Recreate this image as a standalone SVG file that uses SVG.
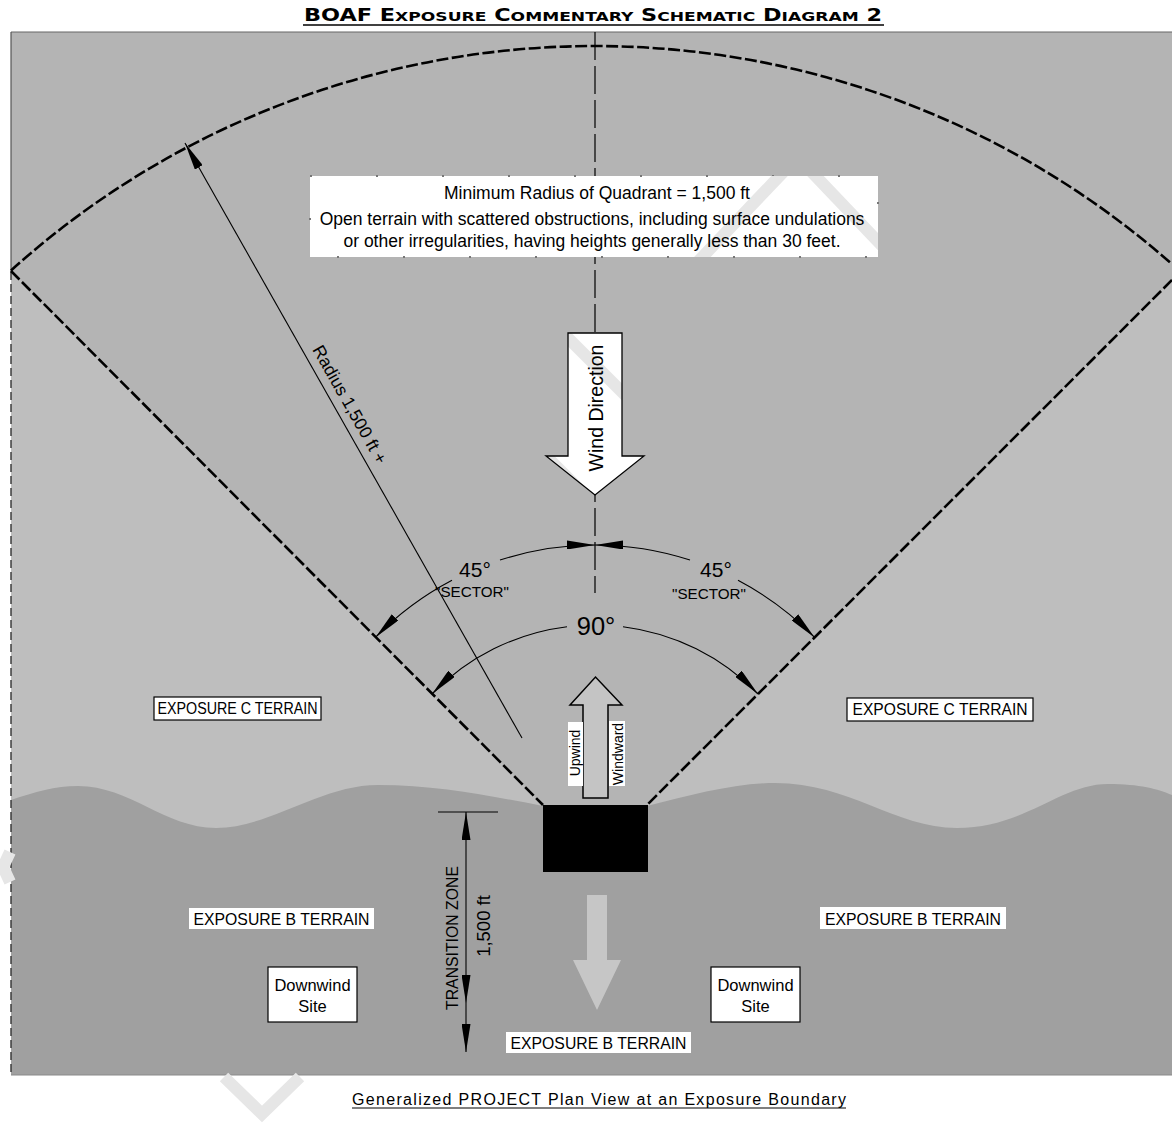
<svg xmlns="http://www.w3.org/2000/svg" width="1172" height="1123" viewBox="0 0 1172 1123">
<style>
.t{font-family:"Liberation Sans",Arial,sans-serif;fill:#000}
.dash{fill:none;stroke:#000;stroke-width:2.6;stroke-dasharray:12 3.5}
.thin{fill:none;stroke:#000;stroke-width:1.1}
.lbl{fill:#fff}
.lblb{fill:#fff;stroke:#000;stroke-width:1.2}
.wm{fill:none;stroke:#e6e6e6;stroke-width:12}
</style>
<defs>
<marker id="ah" markerUnits="userSpaceOnUse" markerWidth="28" markerHeight="9" viewBox="0 0 28 9" refX="28" refY="4.5" orient="auto-start-reverse"><path d="M0,0 L28,4.5 L0,9 Z" fill="#000"/></marker>
<clipPath id="boxclip"><rect x="310" y="176" width="568" height="81"/></clipPath>
<clipPath id="windclip"><polygon points="568,333 622,333 622,456 644,456 595,495 546,456 568,456"/></clipPath>
</defs>

<g id="title">
<text class="t" x="304" y="21" textLength="578" lengthAdjust="spacingAndGlyphs" style="font-family:'DejaVu Sans',sans-serif;font-weight:bold"><tspan font-size="17">BOAF E</tspan><tspan font-size="13">XPOSURE</tspan><tspan font-size="17"> C</tspan><tspan font-size="13">OMMENTARY</tspan><tspan font-size="17"> S</tspan><tspan font-size="13">CHEMATIC</tspan><tspan font-size="17"> D</tspan><tspan font-size="13">IAGRAM</tspan><tspan font-size="17"> 2</tspan></text>
<line x1="303" y1="25" x2="884" y2="25" stroke="#000" stroke-width="1.6"/>
</g>

<g id="background">
<rect x="11" y="32" width="1161" height="1043" fill="#b4b4b4"/>
<polygon points="11,271 543,805 543,1075 11,1075" fill="#bebebe"/>
<polygon points="1172,280 647,805 647,1075 1172,1075" fill="#bebebe"/>
<path d="M11,800 C35,792 55,786 78,786 C130,786 165,828 216,828 C270,828 320,785 378,785 C440,785 495,797 543,806 L647,806 C690,795 735,783 775,783 C850,783 895,828 957,828 C1025,828 1060,784 1108,784 C1140,784 1158,789 1172,795 L1172,1075 L11,1075 Z" fill="#a0a0a0"/>
<line x1="11" y1="32" x2="1172" y2="32" stroke="#666" stroke-width="1.2"/>
<line x1="11" y1="32" x2="11" y2="272" stroke="#555" stroke-width="1.2"/>
<line x1="11" y1="272" x2="11" y2="1075" stroke="#333" stroke-width="1.4" stroke-dasharray="8 4"/>
<line x1="11" y1="1075" x2="1172" y2="1075" stroke="#8a8a8a" stroke-width="1"/>
<polyline class="wm" points="224,1077 262,1114 300,1077" stroke-width="10"/>
<polyline class="wm" points="10,852 3,867 10,882" stroke-width="7"/>
</g>

<g id="connectors">
<path class="dash" d="M11,270.5 A872,872 0 0 1 1172,264.2"/>
<path class="dash" d="M11,271 L543,805"/>
<path class="dash" d="M1172,280 L647,805"/>
<line x1="595" y1="32" x2="595" y2="593" stroke="#000" stroke-width="1.2" stroke-dasharray="28 6"/>
<path class="thin" d="M522,738 L185,143" marker-end="url(#ah)"/>
<path class="thin" d="M500,560.1 A307,307 0 0 1 595,545" marker-end="url(#ah)"/>
<path class="thin" d="M690,560.1 A307,307 0 0 0 595,545" marker-end="url(#ah)"/>
<path class="thin" d="M452,580.3 A307,307 0 0 0 375.4,637.4" marker-end="url(#ah)"/>
<path class="thin" d="M738,580.3 A307,307 0 0 1 814.6,637.4" marker-end="url(#ah)"/>
<path class="thin" d="M567,626.7 A227,227 0 0 0 432,694" marker-end="url(#ah)"/>
<path class="thin" d="M623,626.7 A227,227 0 0 1 758,694" marker-end="url(#ah)"/>
<line x1="438" y1="812" x2="498" y2="812" stroke="#000" stroke-width="1.2"/>
<path class="thin" d="M466,812 V1003" marker-start="url(#ah)" marker-end="url(#ah)"/>
<path class="thin" d="M466,1003 V1052" marker-end="url(#ah)"/>
</g>

<g id="quadrant-note">
<rect x="310" y="176" width="568" height="81" fill="#fff" stroke="#777" stroke-width="2" stroke-dasharray="2 64"/>
<g clip-path="url(#boxclip)">
<line class="wm" x1="790" y1="165" x2="690" y2="270"/>
<line class="wm" x1="805" y1="165" x2="905" y2="270"/>
</g>
<text class="t" x="597" y="199" font-size="17.5" text-anchor="middle">Minimum Radius of Quadrant = 1,500 ft</text>
<text class="t" x="592" y="225" font-size="17.5" text-anchor="middle">Open terrain with scattered obstructions, including surface undulations</text>
<text class="t" x="592" y="247" font-size="17.5" text-anchor="middle">or other irregularities, having heights generally less than 30 feet.</text>
</g>

<g id="wind-direction">
<polygon points="568,333 622,333 622,456 644,456 595,495 546,456 568,456" fill="#fff"/>
<g clip-path="url(#windclip)">
<line class="wm" x1="560" y1="330" x2="630" y2="400" stroke-width="11"/>
<line class="wm" x1="545" y1="455" x2="595" y2="505" stroke-width="11"/>
</g>
<polygon points="568,333 622,333 622,456 644,456 595,495 546,456 568,456" fill="none" stroke="#000" stroke-width="1.3"/>
<text class="t" transform="translate(603,408) rotate(-90)" font-size="19.5" text-anchor="middle">Wind Direction</text>
</g>

<g id="radius-label">
<text class="t" transform="translate(349,405) rotate(60.6)" y="5" font-size="17.5" text-anchor="middle">Radius 1,500 ft +</text>
</g>

<g id="angle-labels">
<text class="t" x="475" y="577" font-size="21" text-anchor="middle">45°</text>
<text class="t" x="472" y="597" font-size="15.2" text-anchor="middle">"SECTOR"</text>
<text class="t" x="716" y="577" font-size="21" text-anchor="middle">45°</text>
<text class="t" x="709" y="599" font-size="15.2" text-anchor="middle">"SECTOR"</text>
<text class="t" x="596" y="635" font-size="25.5" text-anchor="middle">90°</text>
</g>

<g id="upwind-arrow">
<polygon points="583,798 608,798 608,705 622,705 595.5,677 570,705 583,705" fill="#c4c4c4" stroke="#000" stroke-width="1.5"/>
<rect class="lbl" x="568" y="722" width="15" height="64"/>
<rect class="lbl" x="609" y="721" width="16" height="65"/>
<text class="t" transform="translate(579.5,753) rotate(-90)" font-size="14" text-anchor="middle">Upwind</text>
<text class="t" transform="translate(623,754) rotate(-90)" font-size="14" text-anchor="middle">Windward</text>
</g>

<g id="project-site">
<rect x="543" y="805" width="105" height="67" fill="#000"/>
</g>

<g id="downwind-arrow">
<polygon points="587,895 607,895 607,960 621,960 597,1010 573,960 587,960" fill="#c6c6c6"/>
</g>

<g id="transition-zone">
<text class="t" transform="translate(458,938) rotate(-90)" font-size="15.8" text-anchor="middle">TRANSITION ZONE</text>
<text class="t" transform="translate(490,926) rotate(-90)" font-size="18.5" text-anchor="middle">1,500 ft</text>
</g>

<g id="exposure-c-left">
<rect class="lblb" x="154" y="697" width="167" height="23"/>
<text class="t" x="237.5" y="714" font-size="16" text-anchor="middle" textLength="160" lengthAdjust="spacingAndGlyphs">EXPOSURE C TERRAIN</text>
</g>
<g id="exposure-c-right">
<rect class="lblb" x="847" y="698" width="186" height="23"/>
<text class="t" x="940" y="715" font-size="16.5" text-anchor="middle" textLength="175" lengthAdjust="spacingAndGlyphs">EXPOSURE C TERRAIN</text>
</g>
<g id="exposure-b-left">
<rect class="lbl" x="189" y="908" width="185" height="21"/>
<text class="t" x="281.5" y="925" font-size="16.5" text-anchor="middle" textLength="176" lengthAdjust="spacingAndGlyphs">EXPOSURE B TERRAIN</text>
</g>
<g id="exposure-b-right">
<rect class="lbl" x="820" y="907" width="186" height="22"/>
<text class="t" x="913" y="924.5" font-size="16.5" text-anchor="middle" textLength="176" lengthAdjust="spacingAndGlyphs">EXPOSURE B TERRAIN</text>
</g>
<g id="exposure-b-bottom">
<rect class="lbl" x="506" y="1032" width="185" height="21"/>
<text class="t" x="598.5" y="1049" font-size="16.5" text-anchor="middle" textLength="176" lengthAdjust="spacingAndGlyphs">EXPOSURE B TERRAIN</text>
</g>
<g id="downwind-site-left">
<rect class="lblb" x="268" y="967" width="89" height="55"/>
<text class="t" x="312.5" y="991" font-size="16.5" text-anchor="middle">Downwind</text>
<text class="t" x="312.5" y="1012" font-size="16.5" text-anchor="middle">Site</text>
</g>
<g id="downwind-site-right">
<rect class="lblb" x="711" y="967" width="89" height="55"/>
<text class="t" x="755.5" y="991" font-size="16.5" text-anchor="middle">Downwind</text>
<text class="t" x="755.5" y="1012" font-size="16.5" text-anchor="middle">Site</text>
</g>

<g id="caption">
<text class="t" x="599" y="1105" font-size="16" text-anchor="middle" textLength="494" lengthAdjust="spacing">Generalized PROJECT Plan View at an Exposure Boundary</text>
<line x1="352" y1="1108" x2="846" y2="1108" stroke="#000" stroke-width="1.2"/>
</g>
</svg>
